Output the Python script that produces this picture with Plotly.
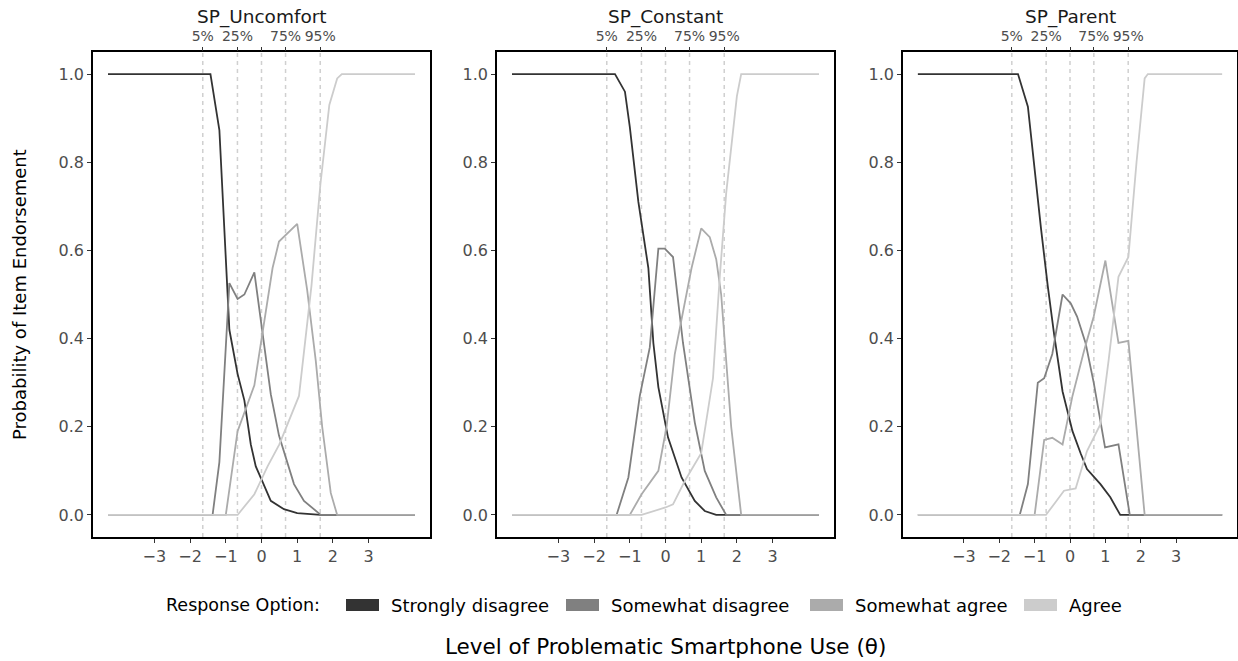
import plotly.graph_objects as go

# response options and greys (ggplot grey scale)
options = ["Strongly disagree", "Somewhat disagree", "Somewhat agree", "Agree"]
colors = ["#333333", "#808080", "#ABABAB", "#CCCCCC"]

items = ["SP_Uncomfort", "SP_Constant", "SP_Parent"]

# percentiles of theta shown on the top axis
pct_vals = [-1.645, -0.674, 0.0, 0.674, 1.645]
pct_text = ["5%", "25%", "", "75%", "95%"]

x_ticks = [-3, -2, -1, 0, 1, 2, 3]
y_ticks = [0.0, 0.2, 0.4, 0.6, 0.8, 1.0]

# SP_Uncomfort
unc_sd_x = [-4.3, -1.43, -1.18, -0.90, -0.67, -0.48, -0.30, -0.16, 0.03, 0.26, 0.63, 1.0, 1.66, 4.3]
unc_sd_y = [1.0, 1.0, 0.873, 0.42, 0.32, 0.26, 0.16, 0.11, 0.075, 0.032, 0.013, 0.004, 0.0, 0.0]
unc_sdis_x = [-4.3, -1.37, -1.18, -0.90, -0.67, -0.48, -0.20, 0.26, 0.49, 0.91, 1.19, 1.66, 4.3]
unc_sdis_y = [0.0, 0.0, 0.12, 0.526, 0.49, 0.50, 0.55, 0.274, 0.18, 0.07, 0.032, 0.0, 0.0]
unc_sa_x = [-4.3, -1.0, -0.67, -0.2, 0.31, 0.49, 1.0, 1.28, 1.52, 1.70, 1.94, 2.12, 4.3]
unc_sa_y = [0.0, 0.0, 0.19, 0.294, 0.56, 0.62, 0.66, 0.51, 0.35, 0.20, 0.05, 0.0, 0.0]
unc_ag_x = [-4.3, -0.67, -0.2, 0.17, 0.5, 1.05, 1.4, 1.65, 1.9, 2.12, 2.25, 4.3]
unc_ag_y = [0.0, 0.0, 0.047, 0.11, 0.16, 0.27, 0.52, 0.75, 0.93, 0.99, 1.0, 1.0]

# SP_Constant
con_sd_x = [-4.3, -1.415, -1.136, -1.0, -0.76, -0.48, -0.34, -0.2, 0.07, 0.45, 0.82, 1.1, 1.42, 4.3]
con_sd_y = [1.0, 1.0, 0.96, 0.88, 0.71, 0.56, 0.39, 0.29, 0.176, 0.085, 0.032, 0.009, 0.0, 0.0]
con_sdis_x = [-4.3, -1.37, -1.04, -0.72, -0.44, -0.2, -0.02, 0.21, 0.49, 0.82, 1.1, 1.42, 1.7, 4.3]
con_sdis_y = [0.0, 0.0, 0.085, 0.27, 0.38, 0.604, 0.604, 0.585, 0.39, 0.21, 0.1, 0.04, 0.0, 0.0]
con_sa_x = [-4.3, -1.0, -0.67, -0.2, 0.03, 0.26, 0.73, 1.0, 1.24, 1.42, 1.56, 1.84, 2.12, 4.3]
con_sa_y = [0.0, 0.0, 0.047, 0.1, 0.2, 0.365, 0.56, 0.65, 0.63, 0.58, 0.5, 0.2, 0.0, 0.0]
con_ag_x = [-4.3, -0.67, 0.0, 0.21, 0.54, 1.0, 1.33, 1.52, 1.7, 2.0, 2.12, 4.3]
con_ag_y = [0.0, 0.0, 0.017, 0.024, 0.077, 0.14, 0.31, 0.54, 0.73, 0.95, 1.0, 1.0]

# SP_Parent
par_sd_x = [-4.3, -1.47, -1.19, -1.0, -0.82, -0.63, -0.45, -0.21, 0.07, 0.3, 0.48, 0.86, 1.14, 1.42, 4.3]
par_sd_y = [1.0, 1.0, 0.926, 0.78, 0.65, 0.52, 0.41, 0.28, 0.19, 0.14, 0.104, 0.07, 0.04, 0.0, 0.0]
par_sdis_x = [-4.3, -1.42, -1.19, -0.91, -0.73, -0.5, -0.21, 0.02, 0.2, 0.44, 0.67, 0.99, 1.37, 1.69, 4.3]
par_sdis_y = [0.0, 0.0, 0.07, 0.3, 0.31, 0.365, 0.5, 0.48, 0.45, 0.39, 0.3, 0.153, 0.16, 0.0, 0.0]
par_sa_x = [-4.3, -1.0, -0.73, -0.5, -0.21, 0.07, 0.39, 0.67, 1.0, 1.37, 1.65, 2.11, 4.3]
par_sa_y = [0.0, 0.0, 0.17, 0.175, 0.16, 0.27, 0.37, 0.45, 0.577, 0.39, 0.395, 0.0, 0.0]
par_ag_x = [-4.3, -0.68, -0.4, -0.17, 0.16, 0.48, 0.86, 1.09, 1.37, 1.65, 1.88, 2.11, 2.2, 4.3]
par_ag_y = [0.0, 0.0, 0.03, 0.055, 0.06, 0.145, 0.206, 0.35, 0.54, 0.585, 0.8, 0.99, 1.0, 1.0]

curves = [
    [(unc_sd_x, unc_sd_y), (unc_sdis_x, unc_sdis_y), (unc_sa_x, unc_sa_y), (unc_ag_x, unc_ag_y)],
    [(con_sd_x, con_sd_y), (con_sdis_x, con_sdis_y), (con_sa_x, con_sa_y), (con_ag_x, con_ag_y)],
    [(par_sd_x, par_sd_y), (par_sdis_x, par_sdis_y), (par_sa_x, par_sa_y), (par_ag_x, par_ag_y)],
]

W, H = 1238, 661
FONT = "DejaVu Sans"
panel_px = [(93, 430), (497, 834), (903, 1237)]
y_dom = [1 - 537 / H, 1 - 52 / H]

fig = go.Figure()
layout = {}

for i, item in enumerate(items):
    n = i + 1
    xa = "x" if n == 1 else f"x{n}"
    ya = "y" if n == 1 else f"y{n}"
    xtop = f"x{n + 3}"

    # dashed percentile lines
    vx, vy = [], []
    for q in pct_vals:
        vx += [q, q, None]
        vy += [-0.05, 1.05, None]
    fig.add_trace(go.Scatter(x=vx, y=vy, mode="lines", xaxis=xa, yaxis=ya,
                             line=dict(color="#D0D0D0", width=1.5, dash="4px,4px"),
                             showlegend=False, hoverinfo="skip"))

    for k, (cx, cy) in enumerate(curves[i]):
        fig.add_trace(go.Scatter(x=cx, y=cy, mode="lines", xaxis=xa, yaxis=ya,
                                 line=dict(color=colors[k], width=1.8),
                                 name=options[k], showlegend=False))

    # invisible trace so the top axis is drawn
    fig.add_trace(go.Scatter(x=pct_vals, y=[0.5] * 5, mode="markers", opacity=0,
                             xaxis=xtop, yaxis=ya, showlegend=False, hoverinfo="skip"))

    x0, x1 = panel_px[i]
    dom = [x0 / W, x1 / W]
    axis_common = dict(showgrid=False, zeroline=False, ticks="outside", ticklen=4,
                       tickwidth=1.2, tickcolor="#333333",
                       tickfont=dict(family=FONT, size=16, color="#4D4D4D"))
    layout[f"xaxis{n}"] = dict(domain=dom, range=[-4.72, 4.72], tickvals=x_ticks,
                               anchor=ya, showline=True, linecolor="black",
                               linewidth=1.5, mirror=True, **axis_common)
    layout[f"yaxis{n}"] = dict(domain=y_dom, range=[-0.05, 1.05], tickvals=y_ticks,
                               tickformat=".1f", anchor=xa, showline=True,
                               linecolor="black", linewidth=1.5, mirror=True,
                               **axis_common)
    top_common = dict(axis_common)
    top_common["tickfont"] = dict(family=FONT, size=14, color="#4D4D4D")
    layout[f"xaxis{n + 3}"] = dict(overlaying=xa, side="top", anchor=ya,
                                   range=[-4.72, 4.72], tickvals=pct_vals,
                                   ticktext=pct_text, showline=False, **top_common)

annotations = []
shapes = []
for i, item in enumerate(items):
    x0, x1 = panel_px[i]
    annotations.append(dict(text=item, x=(x0 + x1) / 2 / W, y=1 - 17 / H,
                            xref="paper", yref="paper", showarrow=False,
                            font=dict(family=FONT, size=18.5, color="#1A1A1A"),
                            xanchor="center", yanchor="middle"))
annotations.append(dict(text="Probability of Item Endorsement", x=20 / W, y=1 - 295 / H,
                        xref="paper", yref="paper", showarrow=False, textangle=-90,
                        font=dict(family=FONT, size=18, color="black"),
                        xanchor="center", yanchor="middle"))
annotations.append(dict(text="Level of Problematic Smartphone Use (\u03b8)", x=666 / W,
                        y=1 - 646 / H, xref="paper", yref="paper", showarrow=False,
                        font=dict(family=FONT, size=21.5, color="black"),
                        xanchor="center", yanchor="middle", borderpad=0))

# legend row at the bottom: title, filled keys, labels
leg_y = 1 - 605 / H
annotations.append(dict(text="Response Option:", x=164 / W, y=leg_y, xref="paper",
                        yref="paper", showarrow=False, xanchor="left", yanchor="middle",
                        font=dict(family=FONT, size=17.5, color="black")))
key_left = [346, 566, 810, 1024]
for k in range(4):
    kx = key_left[k]
    shapes.append(dict(type="rect", xref="paper", yref="paper",
                       x0=kx / W, x1=(kx + 33) / W, y0=1 - 611 / H, y1=1 - 599 / H,
                       fillcolor=colors[k], line=dict(width=0)))
    annotations.append(dict(text=options[k], x=(kx + 43) / W, y=leg_y, xref="paper",
                            yref="paper", showarrow=False, xanchor="left",
                            yanchor="middle",
                            font=dict(family=FONT, size=18, color="black")))

fig.update_layout(
    width=W, height=H,
    margin=dict(l=0, r=0, t=0, b=0),
    plot_bgcolor="white", paper_bgcolor="white",
    font=dict(family=FONT, color="black"),
    showlegend=False,
    annotations=annotations,
    shapes=shapes,
    **layout,
)

# the page's default body margin would shift the figure
fig.write_html("out.html", config={"displayModeBar": False},
               post_script="document.body.style.margin='0px';"
                           "document.body.style.overflow='hidden';")
